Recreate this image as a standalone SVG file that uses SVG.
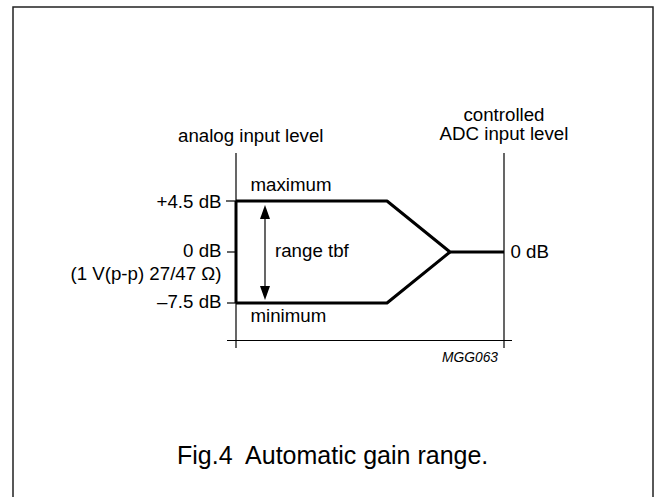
<svg xmlns="http://www.w3.org/2000/svg" width="655" height="497" viewBox="0 0 655 497">
  <defs>
    <style>
      .t { font-family: "Liberation Sans", Arial, sans-serif; font-size: 18.7px; fill: #000; }
      .r { text-anchor: end; }
      .m { text-anchor: middle; }
      .thin { stroke: #000; stroke-width: 1.2; fill: none; }
      .thick { stroke: #000; stroke-width: 3; fill: none; stroke-linejoin: round; }
      .head { fill: #000; }
    </style>
  </defs>
  <rect x="13" y="7" width="640" height="500" fill="#fff" stroke="#222" stroke-width="1.5"/>

  <g id="axes">
    <line class="thin" x1="236" y1="153" x2="236" y2="348"/>
    <line class="thin" x1="504" y1="153" x2="504" y2="348"/>
    <line class="thin" x1="227" y1="340.5" x2="512" y2="340.5"/>
    <line class="thin" x1="226" y1="201" x2="236" y2="201"/>
    <line class="thin" x1="227" y1="252" x2="236" y2="252"/>
    <line class="thin" x1="227" y1="303" x2="236" y2="303"/>
  </g>

  <g id="connectors">
    <path class="thick" d="M236,201 L387,201 L450,252 L504,252"/>
    <path class="thick" d="M236,303 L387,303 L450,252"/>
    <line class="thick" x1="236" y1="201" x2="236" y2="303"/>
    <line stroke="#000" stroke-width="1.2" x1="265" y1="215" x2="265" y2="290"/>
    <polygon class="head" points="265,205 260,219 270,219"/>
    <polygon class="head" points="265,300 260,286 270,286"/>
  </g>

  <g id="input-labels">
    <text class="t" x="178" y="141.5">analog input level</text>
    <text class="t r" x="221.5" y="207.5">+4.5 dB</text>
    <text class="t r" x="221.5" y="257">0 dB</text>
    <text class="t r" x="221.5" y="280">(1 V(p-p) 27/47 Ω)</text>
    <text class="t r" x="221.5" y="308">–7.5 dB</text>
  </g>

  <g id="range-labels">
    <text class="t" x="250.5" y="191">maximum</text>
    <text class="t" x="250.5" y="322">minimum</text>
    <text class="t" x="275" y="257">range tbf</text>
  </g>

  <g id="output-labels">
    <text class="t m" x="504" y="121">controlled</text>
    <text class="t m" x="504" y="140">ADC input level</text>
    <text class="t" x="510.5" y="257.5">0 dB</text>
  </g>

  <g id="code">
    <text x="498" y="361.5" text-anchor="end" font-family="Liberation Sans, Arial, sans-serif" font-size="13.8" font-style="italic">MGG063</text>
  </g>

  <g id="caption">
    <text x="177" y="464" font-family="Liberation Sans, Arial, sans-serif" font-size="25" xml:space="preserve">Fig.4  Automatic gain range.</text>
  </g>
</svg>
